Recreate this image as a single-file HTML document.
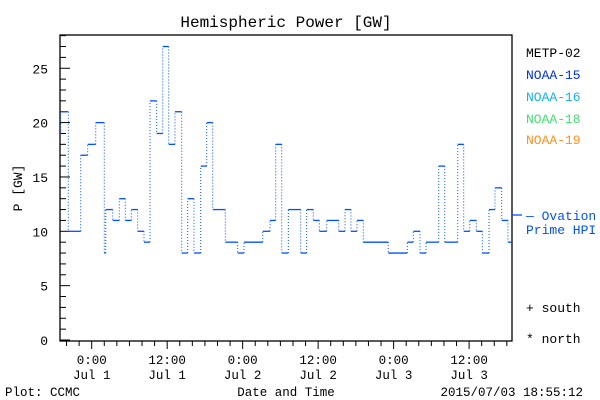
<!DOCTYPE html>
<html><head><meta charset="utf-8"><style>
body{margin:0;background:#fff;}
svg{display:block;font-family:"Liberation Mono",monospace;}
</style></head><body>
<svg width="600" height="400" viewBox="0 0 600 400">
<rect width="600" height="400" fill="#fff"/>
<text x="286" y="27" font-size="16" text-anchor="middle">Hemispheric Power [GW]</text>
<rect x="60" y="35" width="452" height="306" fill="none" stroke="#000" stroke-width="1.3"/>
<g id="yaxis"></g>
<g id="xaxis"></g>
<g id="series"></g>
<text transform="translate(22,188) rotate(-90)" font-size="13" text-anchor="middle">P [GW]</text>
<text x="286" y="396" font-size="12.5" text-anchor="middle">Date and Time</text>
<text x="5" y="396" font-size="12.5">Plot: CCMC</text>
<text x="583" y="396" font-size="12.5" text-anchor="end">2015/07/03 18:55:12</text>
<g font-size="13">
<text x="526" y="57" fill="#000">METP-02</text>
<text x="526" y="79" fill="#0030e0">NOAA-15</text>
<text x="526" y="101" fill="#10b0f0">NOAA-16</text>
<text x="526" y="123" fill="#40e070">NOAA-18</text>
<text x="526" y="144" fill="#ff9020">NOAA-19</text>
<line x1="512" y1="215" x2="522" y2="215" stroke="#0050ff" stroke-width="1.3"/>
<text x="526" y="220" fill="#0050ff">— Ovation</text>
<text x="526" y="234" fill="#0050ff">Prime HPI</text>
<text x="526" y="312" fill="#000">+ south</text>
<text x="526" y="343" fill="#000">* north</text>
</g>
</svg>
<script>
const stepStarts=[-5.03,-4.93,-3.72,-1.75,-0.64,0.64,2.0,2.23,3.34,4.39,5.34,6.30,7.31,8.31,9.27,10.33,11.29,12.24,13.24,14.31,15.26,16.26,17.33,18.28,19.24,21.24,23.21,24.21,27.19,28.35,29.25,30.21,31.26,33.23,34.18,35.23,36.19,37.36,39.27,40.27,41.22,42.18,43.18,47.15,50.17,51.13,52.19,53.15,55.17,56.13,58.19,59.14,60.10,61.15,62.11,63.17,64.12,65.18,66.18];
const stepEnd=66.8;
const powerValues=[19,21,10,17,18,20,8,12,11,13,11,12,10,9,22,19,27,18,21,8,13,8,16,20,12,9,8,9,10,11,18,8,12,8,12,11,10,11,10,12,10,11,9,8,9,10,8,9,16,9,18,10,11,10,8,12,14,11,9];
const yTickLabels=["0","5","10","15","20","25"];
const xTickHours=[0,12,24,36,48,60];
const xTickTimes=["0:00","12:00","0:00","12:00","0:00","12:00"];
const xTickDates=["Jul 1","Jul 1","Jul 2","Jul 2","Jul 3","Jul 3"];
const NS="http://www.w3.org/2000/svg";
const X=h=>91.7+6.29*h;
const Y=v=>340-10.87*v;
function mk(tag,attrs,parent){const e=document.createElementNS(NS,tag);for(const k in attrs)e.setAttribute(k,attrs[k]);parent.appendChild(e);return e;}
const ya=document.getElementById('yaxis');
for(let v=0;v<=28;v++){
  const major=v%5===0;
  const t=mk('line',{x1:60,x2:60+(major?10:6),y1:Y(v),y2:Y(v),stroke:'#000','stroke-width':1},ya);
  
  
}
yTickLabels.forEach(s=>{
  const t=mk('text',{x:48,y:Y(+s)+5,'font-size':13,'text-anchor':'end'},ya);
  t.textContent=s;
  
  
});
const xa=document.getElementById('xaxis');
for(let h=-4;h<=66;h+=2){
  const major=h%12===0;
  const t=mk('line',{x1:X(h),x2:X(h),y1:341,y2:341+(major?8:5),stroke:'#000','stroke-width':1},xa);
  
  
}
xTickHours.forEach((h,i)=>{
  const a=mk('text',{x:X(h),y:364,'font-size':12.5,'text-anchor':'middle'},xa);
  a.textContent=xTickTimes[i];
  
  
  const b=mk('text',{x:X(h),y:379,'font-size':12.5,'text-anchor':'middle'},xa);
  b.textContent=xTickDates[i];
  
  
});
const sg=document.getElementById('series');
for(let i=0;i<powerValues.length;i++){
  const x1=X(stepStarts[i]);
  const x2=X(i+1<stepStarts.length?stepStarts[i+1]:stepEnd);
  const y=Y(powerValues[i]);
  const h=mk('line',{x1:x1,x2:x2,y1:y,y2:y,stroke:'#0050ff','stroke-width':1.3},sg);
  
  
  if(i+1<powerValues.length){
    const v=mk('line',{x1:x2,x2:x2,y1:y,y2:Y(powerValues[i+1]),stroke:'#0050ff','stroke-width':1,'stroke-dasharray':'1,2'},sg);
    
    
  }
}
</script>
</body></html>
